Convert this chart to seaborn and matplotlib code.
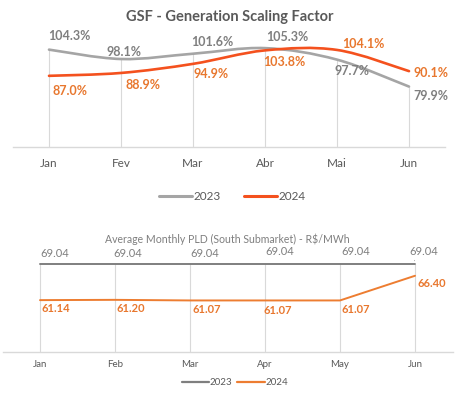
import numpy as np
import pandas as pd
import matplotlib
matplotlib.use("Agg")
import matplotlib.pyplot as plt
from matplotlib.path import Path
from matplotlib.patches import PathPatch
from matplotlib.lines import Line2D
import seaborn as sns

# ---------------- data ----------------
gsf_months = ["Jan", "Fev", "Mar", "Abr", "Mai", "Jun"]
gsf_2023 = [104.3, 98.1, 101.6, 105.3, 97.7, 79.9]
gsf_2024 = [87.0, 88.9, 94.9, 103.8, 104.1, 90.1]

pld_months = ["Jan", "Feb", "Mar", "Apr", "May", "Jun"]
pld_2023 = [69.04, 69.04, 69.04, 69.04, 69.04, 69.04]
pld_2024 = [61.14, 61.20, 61.07, 61.07, 61.07, 66.40]

years = ["2023", "2024"]

# ---------------- style ----------------
sns.set_theme(style="white")
plt.rcParams["font.family"] = ["Lato", "DejaVu Sans"]

GRAY_TOP = "#A5A5A5"
RED_TOP = "#F4511E"
GRAY_LBL = "#7F7F7F"
ORANGE_LBL = "#E8772E"
GRAY_BOT = "#7F7F7F"
ORANGE_BOT = "#ED7D31"
GRID = "#D9D9D9"
TXT = "#595959"

fig = plt.figure(figsize=(4.57, 3.93), dpi=100)
fig.patch.set_facecolor("white")

# label offsets (pixels) for data labels
top_off_23 = [(20, 14), (3, 7), (19, 12), (22, 11), (15, -11), (22, -9)]
top_off_24 = [(21, -15), (22, -12), (18, -10), (19, -12), (26, 6), (22, -2)]
bot_off_23 = [(15, 10), (13, 10), (15, 10), (15, 12), (16, 12), (9, 12)]
bot_off_24 = [(16, -8), (16, -9), (17, -9), (13, -10), (16, -9), (17, -8)]


def smooth_path(xs, ys):
    pts = np.column_stack([xs, ys]).astype(float)
    n = len(pts)
    verts = [pts[0]]
    codes = [Path.MOVETO]
    for i in range(n - 1):
        p0 = pts[i - 1] if i > 0 else pts[i]
        p1 = pts[i]
        p2 = pts[i + 1]
        p3 = pts[i + 2] if i + 2 < n else pts[i + 1]
        c1 = p1 + (p2 - p0) / 6.0
        c2 = p2 - (p3 - p1) / 6.0
        verts += [c1, c2, p2]
        codes += [Path.CURVE4] * 3
    return Path(verts, codes)


# ---------------- top chart ----------------
ax1 = fig.add_axes([13 / 457, 1 - 147 / 393, 432 / 457, 106 / 393])
x = np.arange(len(gsf_months))
ax1.set_xlim(-0.5, len(gsf_months) - 0.5)
ax1.set_ylim(40, 110)
ax1.vlines(x, 40, gsf_2023, color=GRID, lw=0.8, zorder=1)
for vals, col in [(gsf_2023, GRAY_TOP), (gsf_2024, RED_TOP)]:
    ax1.add_patch(PathPatch(smooth_path(x, vals), fill=False, edgecolor=col,
                            lw=1.9, capstyle="round", zorder=3))
for xi, v, off in zip(x, gsf_2023, top_off_23):
    ax1.annotate(f"{v:.1f}%", (xi, v), xytext=off, textcoords="offset pixels",
                 ha="center", va="center", fontsize=9, color=GRAY_LBL,
                 fontweight="bold", zorder=5)
for xi, v, off in zip(x, gsf_2024, top_off_24):
    ax1.annotate(f"{v:.1f}%", (xi, v), xytext=off, textcoords="offset pixels",
                 ha="center", va="center", fontsize=9, color=ORANGE_LBL,
                 fontweight="bold", zorder=5)
ax1.set_xticks(x)
ax1.set_xticklabels(gsf_months)
ax1.tick_params(axis="x", length=0, pad=8, labelsize=8.5, labelcolor=TXT)
ax1.set_yticks([])
for s in ["top", "left", "right"]:
    ax1.spines[s].set_visible(False)
ax1.spines["bottom"].set_color(GRID)
ax1.spines["bottom"].set_linewidth(1)
ax1.set_facecolor("none")

fig.text(230 / 457, 1 - 17 / 393, "GSF - Generation Scaling Factor",
         ha="center", va="center", fontsize=10.5, fontweight="bold", color=TXT)

h1 = [Line2D([], [], color=GRAY_TOP, lw=2.2), Line2D([], [], color=RED_TOP, lw=2.2)]
fig.legend(h1, years, loc="center", bbox_to_anchor=(232 / 457, 1 - 197 / 393),
           ncol=2, frameon=False, fontsize=8.5, handlelength=2.8, handletextpad=0.1,
           columnspacing=2.0, labelcolor=TXT)

# ---------------- bottom chart ----------------
ax2 = fig.add_axes([2.5 / 457, 1 - 351.7 / 393, 450 / 457, 92.6 / 393])
df = pd.DataFrame({
    "month": pld_months * 2,
    "value": pld_2023 + pld_2024,
    "year": [years[0]] * len(pld_months) + [years[1]] * len(pld_months),
})
sns.lineplot(data=df, x="month", y="value", hue="year",
             palette={years[0]: GRAY_BOT, years[1]: ORANGE_BOT},
             lw=1.4, legend=False, ax=ax2, zorder=3)
x2 = np.arange(len(pld_months))
ax2.set_xlim(-0.5, len(pld_months) - 0.5)
ax2.set_ylim(50, 70)
ax2.vlines(x2, 50, pld_2023, color=GRID, lw=0.8, zorder=1)
for i, (xi, v, off) in enumerate(zip(x2, pld_2023, bot_off_23)):
    kw = {}
    if i == len(x2) - 1:
        kw = dict(arrowprops=dict(arrowstyle="-", color="#A5A5A5", lw=0.6,
                                  shrinkA=0, shrinkB=2, relpos=(0.15, 0.0)))
    ax2.annotate(f"{v:.2f}", (xi, v), xytext=off, textcoords="offset pixels",
                 ha="center", va="center", fontsize=8, color=GRAY_LBL,
                 zorder=5, **kw)
for xi, v, off in zip(x2, pld_2024, bot_off_24):
    ax2.annotate(f"{v:.2f}", (xi, v), xytext=off, textcoords="offset pixels",
                 ha="center", va="center", fontsize=8, color=ORANGE_LBL,
                 fontweight="bold", zorder=5)
ax2.set_xticks(x2)
ax2.set_xticklabels(pld_months)
ax2.set_xlabel("")
ax2.set_ylabel("")
ax2.tick_params(axis="x", length=0, pad=6, labelsize=7, labelcolor=TXT)
ax2.set_yticks([])
for s in ["top", "left", "right"]:
    ax2.spines[s].set_visible(False)
ax2.spines["bottom"].set_color(GRID)
ax2.spines["bottom"].set_linewidth(1)
ax2.set_facecolor("none")

fig.text(227.5 / 457, 1 - 239.3 / 393, "Average Monthly PLD (South Submarket) - R$/MWh",
         ha="center", va="center", fontsize=7.6, color=GRAY_LBL)

h2 = [Line2D([], [], color=GRAY_BOT, lw=1.6), Line2D([], [], color=ORANGE_BOT, lw=1.6)]
fig.legend(h2, years, loc="center", bbox_to_anchor=(235 / 457, 1 - 382.7 / 393),
           ncol=2, frameon=False, fontsize=7, handlelength=2.8, handletextpad=0.1,
           columnspacing=0.5, labelcolor=TXT)

fig.savefig("out.png", dpi=100, facecolor="white")
